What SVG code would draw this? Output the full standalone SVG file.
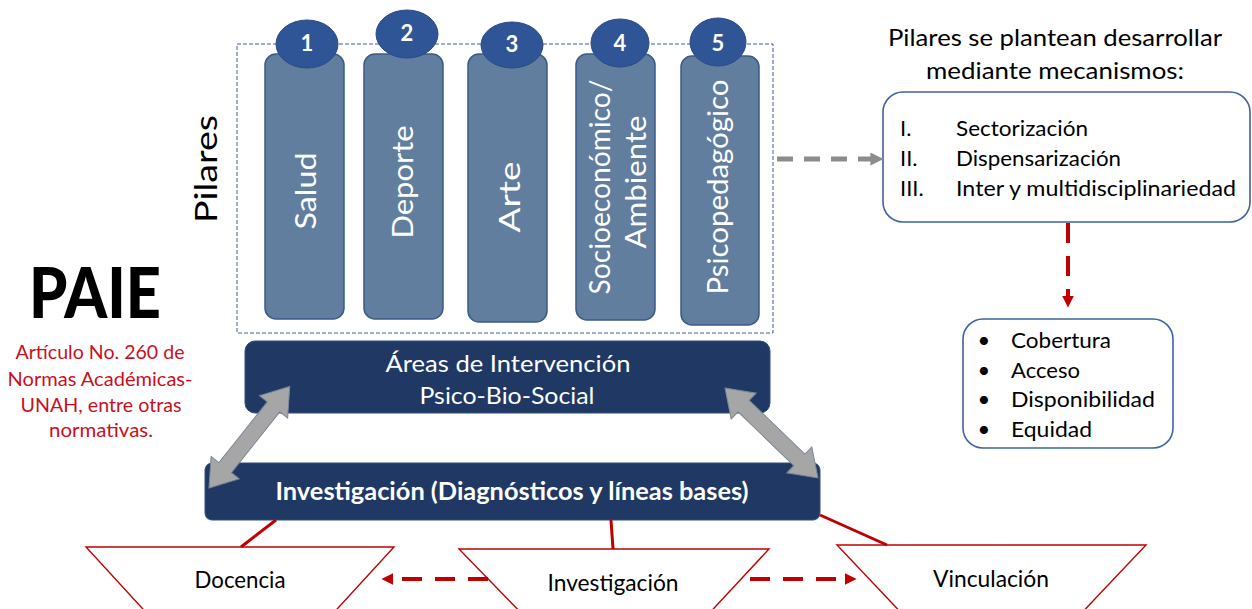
<svg xmlns="http://www.w3.org/2000/svg" width="1252" height="609" viewBox="0 0 1252 609">
<defs>
<style>
text{font-family:Lato,"Open Sans","Liberation Sans",sans-serif}
.pillar{fill:#627e9f;stroke:#3b5a87;stroke-width:1.5}
.num{fill:#2f5597;stroke:#2a4a85;stroke-width:1}
.numt{fill:#fff;font-size:22px;font-weight:bold;text-anchor:middle}
.pt{fill:#fff;font-size:29px;text-anchor:middle}
.navy{fill:#203864;stroke:#2f4f80;stroke-width:1}
.wbox{fill:#fff;stroke:#3f62a0;stroke-width:1.6}
.bt{fill:#000;font-size:22px}
.lt{fill:#000;font-size:23px}
.trap{fill:#fff;stroke:#c00000;stroke-width:1.4}
.red{stroke:#c00000;stroke-width:3;fill:none}
.reddash{stroke:#c00000;stroke-width:4;fill:none;stroke-dasharray:20 13}
.dbl{fill:#a6a6a6;stroke:#7a8699;stroke-width:1}
</style>
<marker id="redHead" viewBox="0 0 10 10" refX="2" refY="5" markerWidth="3" markerHeight="3" orient="auto" markerUnits="strokeWidth">
<path d="M0,0 L10,5 L0,10 Z" fill="#c00000"/>
</marker>
<marker id="grayHead" viewBox="0 0 10 10" refX="2" refY="5" markerWidth="2.6" markerHeight="2.6" orient="auto" markerUnits="strokeWidth">
<path d="M0,0 L10,5 L0,10 Z" fill="#8c8c8c"/>
</marker>
</defs>
<rect width="1252" height="609" fill="#fff"/>

<g id="pilares-frame">
<rect x="237" y="44" width="536" height="289" fill="none" stroke="#3f5f95" stroke-width="1" stroke-dasharray="4 2"/>
<text transform="translate(217,169) rotate(-90)" font-size="31" text-anchor="middle" fill="#000" textLength="108" lengthAdjust="spacingAndGlyphs">Pilares</text>
</g>

<g id="pilar-1">
<rect class="pillar" x="265" y="54" width="79" height="265" rx="11"/>
<ellipse class="num" cx="307" cy="44" rx="31" ry="24"/>
<text class="numt" x="307" y="51">1</text>
<text class="pt" transform="translate(316,191) rotate(-90)" textLength="77" lengthAdjust="spacingAndGlyphs">Salud</text>
</g>
<g id="pilar-2">
<rect class="pillar" x="364" y="54" width="79" height="265" rx="11"/>
<ellipse class="num" cx="407" cy="34" rx="31" ry="24"/>
<text class="numt" x="407" y="41">2</text>
<text class="pt" transform="translate(413,182) rotate(-90)" textLength="113" lengthAdjust="spacingAndGlyphs">Deporte</text>
</g>
<g id="pilar-3">
<rect class="pillar" x="468" y="54" width="79" height="268" rx="11"/>
<ellipse class="num" cx="512" cy="45" rx="31" ry="23"/>
<text class="numt" x="512" y="52">3</text>
<text class="pt" transform="translate(520,197) rotate(-90)" textLength="71" lengthAdjust="spacingAndGlyphs">Arte</text>
</g>
<g id="pilar-4">
<rect class="pillar" x="576" y="54" width="79" height="266" rx="11"/>
<ellipse class="num" cx="620" cy="43" rx="29" ry="24"/>
<text class="numt" x="620" y="51">4</text>
<text class="pt" transform="translate(610,187) rotate(-90)" textLength="215" lengthAdjust="spacingAndGlyphs">Socioeconómico/</text>
<text class="pt" transform="translate(646,182) rotate(-90)" textLength="133" lengthAdjust="spacingAndGlyphs">Ambiente</text>
</g>
<g id="pilar-5">
<rect class="pillar" x="681" y="56" width="78" height="269" rx="11"/>
<ellipse class="num" cx="718" cy="42" rx="28" ry="24"/>
<text class="numt" x="718" y="51">5</text>
<text class="pt" transform="translate(728,187) rotate(-90)" textLength="215" lengthAdjust="spacingAndGlyphs">Psicopedagógico</text>
</g>

<g id="paie">
<text x="95" y="318" font-size="70" font-weight="900" text-anchor="middle" fill="#000" textLength="132" lengthAdjust="spacingAndGlyphs">PAIE</text>
<g fill="#c8101e" font-size="19" text-anchor="middle">
<text x="100" y="359" textLength="169" lengthAdjust="spacingAndGlyphs">Artículo No. 260 de</text>
<text x="100" y="386" textLength="185" lengthAdjust="spacingAndGlyphs">Normas Académicas-</text>
<text x="101" y="412" textLength="161" lengthAdjust="spacingAndGlyphs">UNAH, entre otras</text>
<text x="101" y="437" textLength="104" lengthAdjust="spacingAndGlyphs">normativas.</text>
</g>
</g>

<g id="areas">
<rect class="navy" x="245" y="341" width="525" height="72" rx="10"/>
<text x="508" y="372" font-size="23" fill="#fff" text-anchor="middle" textLength="245" lengthAdjust="spacingAndGlyphs">Áreas de Intervención</text>
<text x="507" y="404" font-size="23" fill="#fff" text-anchor="middle" textLength="175" lengthAdjust="spacingAndGlyphs">Psico-Bio-Social</text>
</g>

<g id="investigacion-base">
<rect class="navy" x="205" y="463" width="615" height="57" rx="7"/>
<text x="512" y="500" font-size="24" font-weight="bold" fill="#fff" text-anchor="middle" textLength="473" lengthAdjust="spacingAndGlyphs">Investigación (Diagnósticos y líneas bases)</text>
</g>

<g id="mecanismos">
<text class="lt" x="1055" y="46" text-anchor="middle" textLength="334" lengthAdjust="spacingAndGlyphs">Pilares se plantean desarrollar</text>
<text class="lt" x="1055" y="79" text-anchor="middle" textLength="258" lengthAdjust="spacingAndGlyphs">mediante mecanismos:</text>
<rect class="wbox" x="883" y="92" width="367" height="130" rx="20"/>
<text class="bt" x="900" y="136">I.</text>
<text class="bt" x="956" y="136" textLength="132" lengthAdjust="spacingAndGlyphs">Sectorización</text>
<text class="bt" x="900" y="166">II.</text>
<text class="bt" x="956" y="166" textLength="165" lengthAdjust="spacingAndGlyphs">Dispensarización</text>
<text class="bt" x="900" y="196">III.</text>
<text class="bt" x="956" y="196" textLength="280" lengthAdjust="spacingAndGlyphs">Inter y multidisciplinariedad</text>
</g>

<g id="resultados">
<rect class="wbox" x="963" y="319" width="210" height="129" rx="20"/>
<g class="bt" text-anchor="middle">
<text x="984" y="348">•</text><text x="984" y="378">•</text><text x="984" y="407">•</text><text x="984" y="437">•</text>
</g>
<text class="bt" x="1011" y="348" textLength="100" lengthAdjust="spacingAndGlyphs">Cobertura</text>
<text class="bt" x="1011" y="378" textLength="69" lengthAdjust="spacingAndGlyphs">Acceso</text>
<text class="bt" x="1011" y="407" textLength="144" lengthAdjust="spacingAndGlyphs">Disponibilidad</text>
<text class="bt" x="1011" y="437" textLength="81" lengthAdjust="spacingAndGlyphs">Equidad</text>
</g>

<g id="docencia">
<polygon class="trap" points="86,547 394,547 327,620 153,620"/>
<text class="lt" x="240" y="588" text-anchor="middle" textLength="91" lengthAdjust="spacingAndGlyphs">Docencia</text>
</g>
<g id="investigacion">
<polygon class="trap" points="459,549 769,549 703,620 528,620"/>
<text class="lt" x="613" y="591" text-anchor="middle" textLength="131" lengthAdjust="spacingAndGlyphs">Investigación</text>
</g>
<g id="vinculacion">
<polygon class="trap" points="837,545 1146,545 1075,620 908,620"/>
<text class="lt" x="991" y="587" text-anchor="middle" textLength="116" lengthAdjust="spacingAndGlyphs">Vinculación</text>
</g>

<g id="connectors">
<line x1="777" y1="159" x2="873" y2="159" stroke="#8c8c8c" stroke-width="5" stroke-dasharray="16 11" marker-end="url(#grayHead)"/>
<line x1="1068" y1="223" x2="1068" y2="298" class="reddash" stroke-dasharray="16 12" marker-end="url(#redHead)"/>
<path class="dbl" transform="translate(209,488) rotate(-51.5)" d="M0,0 L26,-18 L26,-8 L103.7,-8 L103.7,-18 L129.7,0 L103.7,18 L103.7,8 L26,8 L26,18 Z"/>
<path class="dbl" transform="translate(725,388) rotate(44.06)" d="M0,0 L26,-18 L26,-8 L103.4,-8 L103.4,-18 L129.4,0 L103.4,18 L103.4,8 L26,8 L26,18 Z"/>
<line class="red" x1="276" y1="520" x2="241" y2="547"/>
<line class="red" x1="611" y1="520" x2="613" y2="549"/>
<line class="red" x1="820" y1="515" x2="887" y2="545"/>
<line class="reddash" x1="488" y1="579" x2="391" y2="579" marker-end="url(#redHead)"/>
<line class="reddash" x1="750" y1="579" x2="847" y2="579" marker-end="url(#redHead)"/>
</g>
</svg>
